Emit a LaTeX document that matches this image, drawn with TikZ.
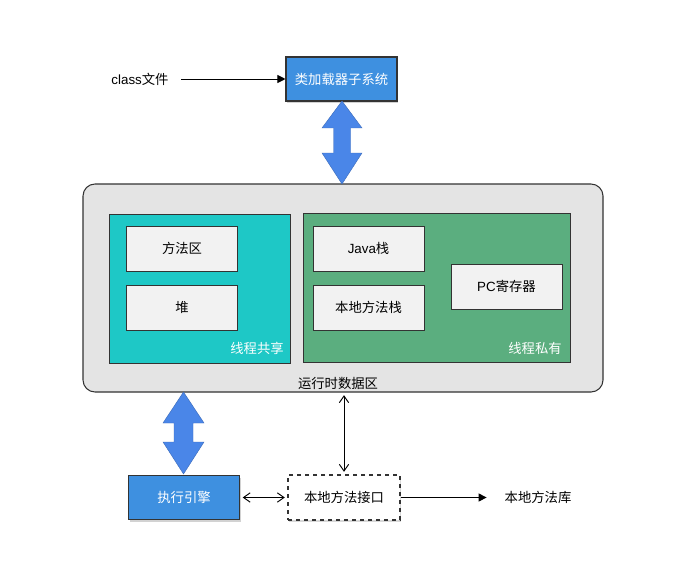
\documentclass[tikz,border=0pt]{standalone}
\usepackage{fontspec}
\setmainfont{Noto Sans CJK SC}
\newfontfamily\lat{Liberation Sans}
\usetikzlibrary{arrows.meta,shadows}
\definecolor{boxblue}{HTML}{3E90E0}
\definecolor{arrblue}{HTML}{4A86E8}
\definecolor{teal}{HTML}{1EC8C6}
\definecolor{pgreen}{HTML}{5BAE7F}
\definecolor{outer}{HTML}{E4E4E4}
\definecolor{inner}{HTML}{F2F2F2}
\tikzset{
  bluebox/.style={draw=black!80, fill=boxblue, text=white, line width=0.8pt, minimum width=83.25pt, minimum height=33pt, inner sep=0pt, drop shadow={shadow xshift=1pt, shadow yshift=-1.5pt, opacity=0.35}},
  membox/.style={draw=black!80, fill=inner, line width=0.6pt, minimum width=83.25pt, minimum height=33.75pt, inner sep=0pt},
  area/.style={draw=black!80, line width=0.6pt},
  dashbox/.style={draw=black!80, fill=white, dashed, line width=0.8pt, minimum width=84pt, minimum height=33.75pt, inner sep=0pt, drop shadow={shadow xshift=1pt, shadow yshift=-1.5pt, opacity=0.3}},
  fat/.style={fill=arrblue, draw=arrblue!80!black, line width=0.3pt},
  thin/.style={line width=0.7pt},
  lbl/.style={font=\fontsize{10}{12}\selectfont},
}
\begin{document}
\begin{tikzpicture}[x=0.75pt,y=-0.75pt, font=\fontsize{10}{12}\selectfont]
\useasboundingbox (0,0) rectangle (677,574);
\fill[white] (0,0) rectangle (677,574);
% outer runtime area
\node[draw=black!80, fill=outer, rounded corners=9pt, line width=0.8pt, minimum width=390pt, minimum height=156pt, inner sep=0pt] (rt) at (343,288) {};
\node[lbl] (rtl) at (338,383) {运行时数据区};
% shared area
\node[area, fill=teal, minimum width=135.75pt, minimum height=111.75pt, inner sep=0pt] (shared) at (199.5,288.5) {};
\node[lbl, text=white] (sharedl) at (257,348) {线程共享};
\node[membox] (ma) at (182,248.5) {方法区};
\node[membox] (heap) at (182,307.5) {堆};
% private area
\node[area, fill=pgreen, minimum width=200.25pt, minimum height=111.75pt, inner sep=0pt] (priv) at (436.5,287.5) {};
\node[lbl, text=white] (privl) at (535,348) {线程私有};
\node[membox] (js) at (368.5,248.5) {{\lat Java}栈};
\node[membox] (ns) at (368.5,307.5) {本地方法栈};
\node[membox] (pc) at (506.5,286.5) {{\lat PC}寄存器};
% class loader
\node[bluebox] (cl) at (341.5,79) {类加载器子系统};
\node[lbl] (cf) at (140,79) {{\lat class}文件};
\draw[thin, -{Triangle[length=6pt,width=6pt]}] ([xshift=6]cf.east |- cl.west) -- (cl.west);
% fat arrow top
\draw[fat] (342,101) -- (362,128) -- (350.5,128) -- (350.5,153) -- (362,153) -- (342,184) -- (322,153) -- (333.5,153) -- (333.5,128) -- (322,128) -- cycle;
% execution engine
\node[bluebox] (ee) at (184,497.5) {执行引擎};
% fat arrow bottom
\draw[fat] (183.5,392) -- (204,423) -- (193,423) -- (193,442) -- (204,442) -- (183.5,474) -- (163,442) -- (174,442) -- (174,423) -- (163,423) -- cycle;
% native interface
\node[dashbox] (ni) at (344,497.5) {本地方法接口};
\node[lbl] (nl) at (538,497.5) {本地方法库};
\draw[thin, {Straight Barb[length=5pt,width=7pt]}-{Straight Barb[length=5pt,width=7pt]}] ([xshift=2]ee.east) -- ([xshift=-2]ni.west);
\draw[thin, {Straight Barb[length=5pt,width=7pt]}-{Straight Barb[length=5pt,width=7pt]}] ([yshift=-2]ni.north |- rt.south) -- ([yshift=2]ni.north);
\draw[thin, -{Triangle[length=6pt,width=6pt]}] (ni.east) -- ([xshift=-10]nl.west);
\end{tikzpicture}
\end{document}
